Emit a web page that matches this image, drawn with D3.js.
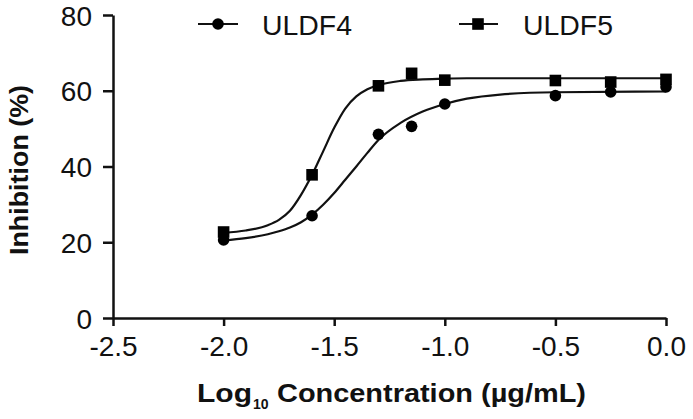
<!DOCTYPE html>
<html>
<head>
<meta charset="utf-8">
<script src="https://cdn.jsdelivr.net/npm/d3@7"></script>
<style>
body { margin: 0; background: #fff; }
text { font-family: "Liberation Sans", Arial, sans-serif; fill: #111; }
</style>
</head>
<body>
<svg id="chart" width="693" height="419"></svg>
<script>
// measured points (log10 conc, % inhibition)
var xs = [-2.0, -1.6, -1.3, -1.15, -1.0, -0.5, -0.25, 0.0];
var uldf4 = [20.6, 27, 48.5, 50.6, 56.5, 58.7, 59.7, 61];
var uldf5 = [22.7, 37.8, 61.3, 64.6, 62.8, 62.7, 62.3, 63];

// fitted curves
var fitX = [-2.0, -1.9, -1.8, -1.75, -1.7, -1.65, -1.6, -1.55, -1.5, -1.45, -1.4, -1.35, -1.3, -1.2, -1.1, -1.0, -0.9, -0.75, -0.5, 0.0];
var fit4 = [20.5, 21.1, 22.1, 22.9, 23.9, 25.3, 27.3, 29.9, 33, 36.5, 40, 43.6, 47, 51.5, 54.5, 56.5, 57.9, 59, 59.6, 59.8];
var fit5 = [22.5, 23.1, 24.5, 25.9, 28.3, 32.5, 37.8, 44, 50.2, 55.3, 58.5, 60.4, 61.5, 62.6, 63, 63.2, 63.3, 63.3, 63.3, 63.3];

var xTicks = [-2.5, -2.0, -1.5, -1.0, -0.5, 0.0];
var yTicks = [0, 20, 40, 60, 80];

var svg = d3.select("#chart");

var x = d3.scaleLinear().domain([-2.5, 0]).range([113, 666]);
var y = d3.scaleLinear().domain([0, 80]).range([318, 15]);

// y axis
var yAx = svg.append("g")
    .attr("transform", "translate(113,0)")
    .call(d3.axisLeft(y).tickValues(yTicks).tickSize(10).tickPadding(11).tickSizeOuter(0));

// x axis
var xAx = svg.append("g")
    .attr("transform", "translate(0,318)")
    .call(d3.axisBottom(x).tickValues(xTicks).tickSize(8).tickPadding(10).tickSizeOuter(0));

[yAx, xAx].forEach(function(a) {
  a.select(".domain").attr("stroke", "#111").attr("stroke-width", 2.5);
  a.selectAll(".tick line").attr("stroke", "#111").attr("stroke-width", 2.5);
  a.selectAll(".tick text").style("font-size", "28px").attr("fill", "#222")
    .style("font-family", "'Liberation Sans', Arial, sans-serif");
});
xAx.selectAll(".tick text").text(function(d) { return d3.format(".1f")(d).replace("−", "-"); });
yAx.selectAll(".tick text").attr("dy", "0.36em");

// curves
var line = d3.line()
    .x(function(d) { return x(d[0]); })
    .y(function(d) { return y(d[1]); })
    .curve(d3.curveMonotoneX);

svg.append("path")
    .datum(fitX.map(function(v, i) { return [v, fit4[i]]; }))
    .attr("d", line).attr("fill", "none").attr("stroke", "#111").attr("stroke-width", 2.2);

svg.append("path")
    .datum(fitX.map(function(v, i) { return [v, fit5[i]]; }))
    .attr("d", line).attr("fill", "none").attr("stroke", "#111").attr("stroke-width", 2.2);

// points
svg.selectAll(".pt4")
    .data(xs.map(function(v, i) { return [v, uldf4[i]]; }))
    .enter().append("circle")
    .attr("class", "pt4")
    .attr("cx", function(d) { return x(d[0]); })
    .attr("cy", function(d) { return y(d[1]); })
    .attr("r", 5.8)
    .attr("fill", "#000");

svg.selectAll(".pt5")
    .data(xs.map(function(v, i) { return [v, uldf5[i]]; }))
    .enter().append("rect")
    .attr("class", "pt5")
    .attr("x", function(d) { return x(d[0]) - 5.8; })
    .attr("y", function(d) { return y(d[1]) - 5.8; })
    .attr("width", 11.6)
    .attr("height", 11.6)
    .attr("fill", "#000");

// legend
var lg = svg.append("g");
lg.append("line").attr("x1", 198).attr("x2", 238).attr("y1", 24).attr("y2", 24)
  .attr("stroke", "#111").attr("stroke-width", 2.2);
lg.append("circle").attr("cx", 218).attr("cy", 24).attr("r", 5.8).attr("fill", "#000");
lg.append("text").attr("x", 262).attr("y", 35).style("font-size", "27px")
  .attr("textLength", 90).attr("lengthAdjust", "spacingAndGlyphs").text("ULDF4");

lg.append("line").attr("x1", 459).attr("x2", 498).attr("y1", 24).attr("y2", 24)
  .attr("stroke", "#111").attr("stroke-width", 2.2);
lg.append("rect").attr("x", 472.2).attr("y", 18.2).attr("width", 11.6).attr("height", 11.6).attr("fill", "#000");
lg.append("text").attr("x", 523).attr("y", 35).style("font-size", "27px")
  .attr("textLength", 90).attr("lengthAdjust", "spacingAndGlyphs").text("ULDF5");

// axis titles
svg.append("text")
    .attr("transform", "translate(28,170) rotate(-90)")
    .attr("text-anchor", "middle")
    .style("font-size", "26px")
    .style("font-weight", "bold")
    .attr("textLength", 170)
    .attr("lengthAdjust", "spacingAndGlyphs")
    .text("Inhibition (%)");

var xt = svg.append("text")
    .attr("y", 402)
    .style("font-size", "26px")
    .style("font-weight", "bold");
xt.append("tspan").attr("x", 197).attr("textLength", 55).attr("lengthAdjust", "spacingAndGlyphs").text("Log");
xt.append("tspan").attr("x", 253).attr("dy", 7).style("font-size", "14px").text("10");
xt.append("tspan").attr("x", 277).attr("dy", -7).attr("textLength", 309).attr("lengthAdjust", "spacingAndGlyphs").text("Concentration (µg/mL)");
</script>
</body>
</html>
